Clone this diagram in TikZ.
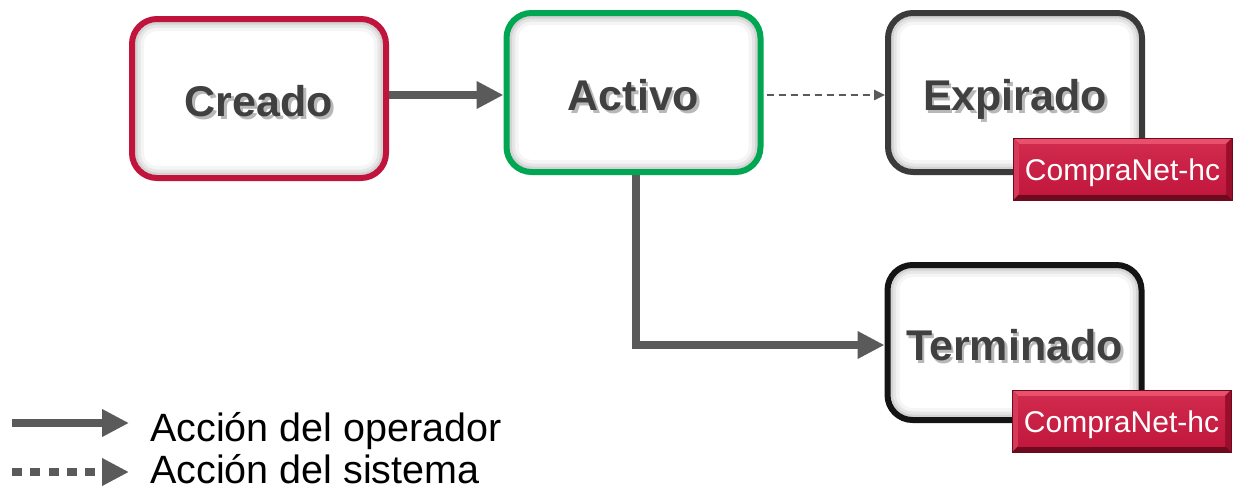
\documentclass[tikz,border=0pt]{standalone}
\usepackage{fontspec}
\setmainfont{Liberation Sans}
\usetikzlibrary{arrows.meta,calc,shadows}

\definecolor{txtgray}{HTML}{404040}
\definecolor{arrgray}{HTML}{5A5A5A}
\definecolor{crRed}{HTML}{C0143C}
\definecolor{crDark}{HTML}{6E0A20}
\definecolor{acGreen}{HTML}{00A651}
\definecolor{acDark}{HTML}{005E2C}
\definecolor{exGray}{HTML}{3A3A3A}
\definecolor{exDark}{HTML}{1E1E1E}
\definecolor{tmBlack}{HTML}{141414}
\definecolor{bdgMid}{HTML}{C2173E}
\definecolor{bdgTop}{HTML}{D02A4C}
\definecolor{bdgLight}{HTML}{E8506C}
\definecolor{bdgLeft}{HTML}{D63A58}
\definecolor{bdgRight}{HTML}{9A0E2C}
\definecolor{bdgDark}{HTML}{6E0A1E}

% bold label with a soft grey drop shadow
\newcommand\shadowed[1]{%
  \makebox[0pt][l]{\hspace{2.5pt}\raisebox{-2.5pt}{\textcolor{black!28}{#1}}}%
  #1}

\begin{document}
\begin{tikzpicture}[x=1pt,y=-1pt,
  state/.style={rectangle, rounded corners=25pt, line width=6pt, fill=white,
    minimum width=254pt, minimum height=159pt, inner sep=0pt,
    text height=36pt, text depth=0pt, text=txtgray,
    font=\fontsize{43}{43}\selectfont\bfseries,
    path picture={
      \foreach \w/\o in {24/0.04,17/0.06,11/0.08}{
        \draw[line width=\w pt, black, opacity=\o, rounded corners=25pt]
          (path picture bounding box.south west) rectangle (path picture bounding box.north east);}
    }},
  edge shade/.style={drop shadow={shadow xshift=1.5pt, shadow yshift=-1.5pt, fill=#1, opacity=1}},
  badge/.style={rectangle, minimum width=219pt, minimum height=62pt, inner sep=0pt,
    text=white, text height=22pt, text depth=0pt,
    font=\fontsize{30}{30}\selectfont, draw=bdgDark, line width=0.8pt,
    path picture={
      \coordinate (pNW) at (path picture bounding box.north west);
      \coordinate (pNE) at (path picture bounding box.north east);
      \coordinate (pSW) at (path picture bounding box.south west);
      \coordinate (pSE) at (path picture bounding box.south east);
      \fill[bdgDark] (pNW) rectangle (pSE);
      \fill[bdgLight] (pNW) -- (pNE) -- ($(pNE)+(-6,6)$) -- ($(pNW)+(6,6)$) -- cycle;
      \fill[bdgLeft] (pNW) -- ($(pNW)+(6,6)$) -- ($(pSW)+(6,-6)$) -- (pSW) -- cycle;
      \fill[bdgRight] (pNE) -- ($(pNE)+(-6,6)$) -- ($(pSE)+(-6,-6)$) -- (pSE) -- cycle;
      \shade[top color=bdgTop, bottom color=bdgMid] ($(pNW)+(6,6)$) rectangle ($(pSE)+(-6,-6)$);
    }},
  opflow/.style={draw=arrgray, line width=8pt, -{Triangle[length=27pt,width=26pt]}},
  sysflow/.style={draw=arrgray, line width=2.5pt, dash pattern=on 7pt off 5pt,
    -{Triangle[length=11pt,width=10pt]}},
  legendtext/.style={anchor=base west, inner sep=0pt, text=black,
    font=\fontsize{39.5}{39.5}\selectfont}
]
\useasboundingbox (0,0) rectangle (1238,490);

% states
\node[state, draw=crRed, edge shade=crDark] (creado) at (259,98.5) {\shadowed{Creado}};
\node[state, draw=acGreen, edge shade=acDark] (activo) at (633.5,92.5) {\shadowed{Activo}};
\node[state, draw=exGray, edge shade=exDark] (expirado) at (1015,92.5) {\shadowed{Expirado}};
\node[state, draw=tmBlack, minimum height=155pt] (terminado) at (1014.5,342.5) {\shadowed{Terminado}};

% system tags
\node[badge] (tagexp) at (1122.5,169) {CompraNet-hc};
\node[badge] (tagterm) at (1121.5,421) {CompraNet-hc};

% transitions
\draw[opflow] (creado.east |- 0,95) -- ([yshift=-2.5pt]activo.west);
\draw[sysflow] ([yshift=-2.5pt,xshift=3pt]activo.east) -- ([yshift=-2.5pt]expirado.west);
\draw[opflow] ([xshift=2.5pt]activo.south) |- ([yshift=-2.5pt]terminado.west);

% legend
\coordinate (opA) at (12,423);
\coordinate (opB) at (129,423);
\coordinate (syA) at (12,472);
\coordinate (syB) at (129,472);
\draw[opflow] (opA) -- (opB);
\draw[opflow, dash pattern=on 10pt off 8.3pt] (syA) -- (syB);
\node[legendtext] (lgop) at (150,441) {Acción del operador};
\node[legendtext] (lgsys) at (150,483) {Acción del sistema};
\end{tikzpicture}
\end{document}
